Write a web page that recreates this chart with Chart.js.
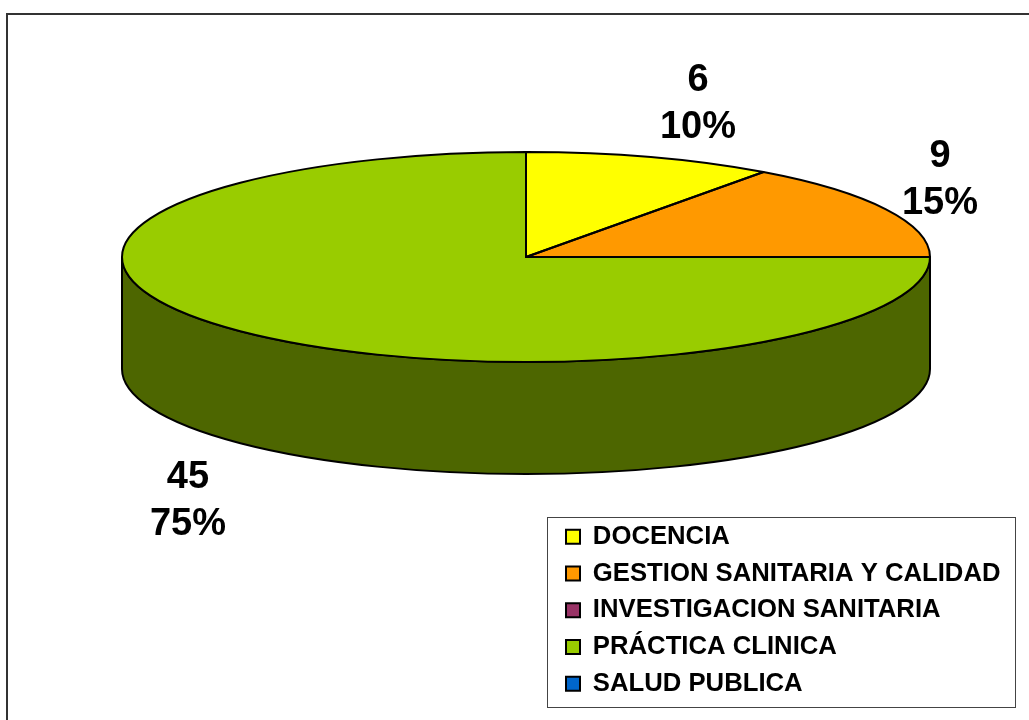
<!DOCTYPE html>
<html>
<head>
<meta charset="utf-8">
<style>
html, body { margin: 0; padding: 0; background: #fff; }
canvas { display: block; }
</style>
<script src="https://cdn.jsdelivr.net/npm/chart.js@4"></script>
</head>
<body>
<canvas id="grafica" width="1029" height="720"></canvas>
<script>
const categorias = ['DOCENCIA', 'GESTION SANITARIA Y CALIDAD', 'INVESTIGACION SANITARIA', 'PRÁCTICA CLINICA', 'SALUD PUBLICA'];
const valores = [6, 9, 0, 45, 0];
const colores = ['#FFFF00', '#FF9900', '#993366', '#99CC00', '#0066CC'];
const colores_lado = ['#808000', '#804C00', '#4D1A33', '#4D6600', '#003366'];

// donde va cada etiqueta de datos (centro del texto)
const pos_etiquetas = { 0: [698, 104], 1: [940, 180], 3: [188, 501] };

// geometria del pastel 3D en pantalla
const centro_x = 526, centro_y = 257, radio_x = 404, radio_y = 105, alto_lado = 112;
const radio_base = 100;

function aplicar_elipse(ctx, arco) {
    ctx.translate(centro_x, centro_y);
    ctx.scale(radio_x / radio_base, radio_y / radio_base);
    ctx.translate(-arco.x, -arco.y);
}

const pastel_3d = {
    id: 'pastel_3d',
    beforeDraw(chart) {
        const ctx = chart.ctx;
        ctx.save();
        ctx.fillStyle = '#fff';
        ctx.fillRect(0, 0, chart.width, chart.height);
        // marco: solo arriba y a la izquierda
        ctx.strokeStyle = '#333';
        ctx.lineWidth = 2;
        ctx.beginPath();
        ctx.moveTo(7, chart.height);
        ctx.lineTo(7, 14);
        ctx.lineTo(chart.width, 14);
        ctx.stroke();
        // caja de la leyenda
        ctx.lineWidth = 1;
        ctx.strokeStyle = '#444';
        ctx.strokeRect(547.5, 517.5, 468, 190);
        ctx.restore();
    },
    beforeDatasetsDraw(chart) {
        const ctx = chart.ctx;
        const arcos = chart.getDatasetMeta(0).data;
        // lado del cilindro: solo la mitad de delante
        ctx.save();
        ctx.lineWidth = 2;
        ctx.strokeStyle = '#000';
        arcos.forEach((arco, i) => {
            const ini = Math.max(arco.startAngle, 0);
            const fin = Math.min(arco.endAngle, Math.PI);
            if (valores[i] === 0 || fin <= ini) return;
            ctx.beginPath();
            ctx.ellipse(centro_x, centro_y, radio_x, radio_y, 0, ini, fin);
            ctx.ellipse(centro_x, centro_y + alto_lado, radio_x, radio_y, 0, fin, ini, true);
            ctx.closePath();
            ctx.fillStyle = colores_lado[i];
            ctx.fill();
            ctx.stroke();
        });
        ctx.restore();
        ctx.save();
        aplicar_elipse(ctx, arcos[0]);
    },
    afterDatasetsDraw(chart) {
        const ctx = chart.ctx;
        ctx.restore();
        const arcos = chart.getDatasetMeta(0).data;
        // contorno en pantalla para que el trazo no quede deformado
        ctx.save();
        ctx.lineWidth = 2;
        ctx.strokeStyle = '#000';
        ctx.lineJoin = 'round';
        arcos.forEach((arco, i) => {
            if (valores[i] === 0) return;
            ctx.beginPath();
            ctx.moveTo(centro_x, centro_y);
            ctx.ellipse(centro_x, centro_y, radio_x, radio_y, 0, arco.startAngle, arco.endAngle);
            ctx.closePath();
            ctx.stroke();
        });
        ctx.restore();
    },
    afterLayout(chart) {
        // el limite inferior queda holgado para que no abra otra columna
        const ley = chart.legend;
        ley.left = 555;
        ley.top = 513;
        ley.right = 1015;
        ley.bottom = 780;
        ley.width = 460;
        ley.height = 267;
    },
    afterDraw(chart) {
        const ctx = chart.ctx;
        const total = valores.reduce((a, b) => a + b, 0);
        ctx.save();
        ctx.fillStyle = '#000';
        ctx.font = 'bold 38px "Liberation Sans"';
        ctx.textAlign = 'center';
        ctx.textBaseline = 'middle';
        valores.forEach((v, i) => {
            if (v === 0) return;
            const [x, y] = pos_etiquetas[i];
            ctx.fillText(String(v), x, y - 23);
            ctx.fillText(Math.round(v / total * 100) + '%', x, y + 24);
        });
        ctx.restore();
    }
};

new Chart(document.getElementById('grafica'), {
    type: 'pie',
    data: {
        labels: categorias,
        datasets: [{
            data: valores,
            backgroundColor: colores,
            borderWidth: 0,
            radius: radio_base
        }]
    },
    options: {
        responsive: false,
        animation: false,
        devicePixelRatio: 1,
        plugins: {
            tooltip: { enabled: false },
            legend: {
                position: 'chartArea',
                align: 'start',
                labels: {
                    boxWidth: 14,
                    boxHeight: 14,
                    padding: 11,
                    color: '#000',
                    font: { family: '"Liberation Sans"', size: 25.7, weight: 'bold' },
                    generateLabels(chart) {
                        return categorias.map((c, i) => ({
                            text: c,
                            fillStyle: colores[i],
                            strokeStyle: '#000',
                            lineWidth: 2,
                            index: i
                        }));
                    }
                }
            }
        }
    },
    plugins: [pastel_3d]
});
</script>
</body>
</html>
